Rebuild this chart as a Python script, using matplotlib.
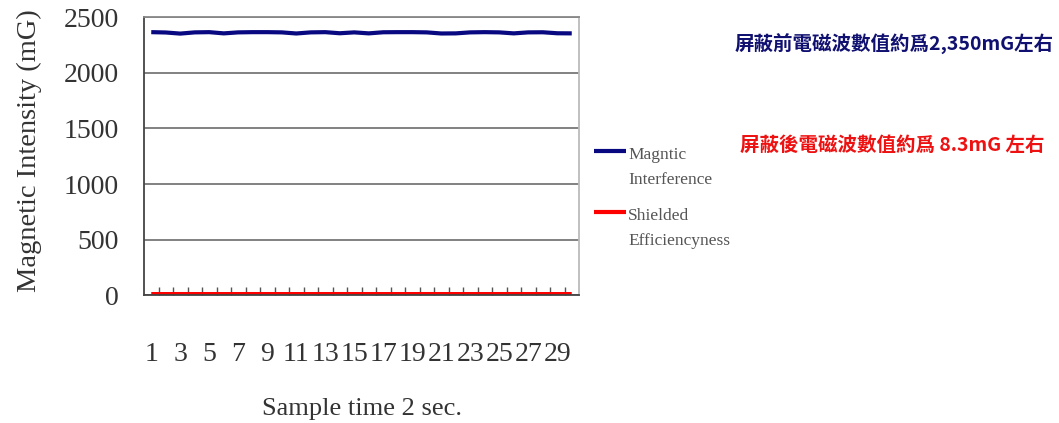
import matplotlib
matplotlib.use("Agg")
import matplotlib.pyplot as plt
from matplotlib.legend_handler import HandlerLine2D
import numpy as np

samples = list(range(1, 31))
magnetic_interference = [2368, 2365, 2355, 2366, 2368, 2357, 2366, 2368, 2368, 2366,
                         2356, 2366, 2368, 2358, 2366, 2357, 2367, 2368, 2368, 2366,
                         2356, 2357, 2366, 2368, 2366, 2357, 2366, 2367, 2358, 2357]
shielded = [8.3, 8.2, 8.4, 8.3, 8.3, 8.2, 8.3, 8.4, 8.3, 8.3,
            8.2, 8.3, 8.3, 8.4, 8.3, 8.3, 8.2, 8.3, 8.3, 8.4,
            8.3, 8.3, 8.2, 8.3, 8.3, 8.4, 8.3, 8.3, 8.2, 8.3]
yticks = [0, 500, 1000, 1500, 2000, 2500]
xtick_labels = list(range(1, 31, 2))
legend_labels = ["Magntic\nInterference", "Shielded\nEfficiencyness"]
note_before = "屏蔽前電磁波數值約爲2,350mG左右"
note_after = "屏蔽後電磁波數值約爲 8.3mG 左右"

serif = "Liberation Serif"
cjk = ["Noto Sans CJK TC", "DejaVu Sans"]


class TopLineHandler(HandlerLine2D):
    def __init__(self, shift, **kw):
        super().__init__(**kw)
        self.shift = shift

    def create_artists(self, legend, orig_handle, xdescent, ydescent, width, height,
                       fontsize, trans):
        arts = super().create_artists(legend, orig_handle, xdescent, ydescent, width,
                                      height, fontsize, trans)
        for a in arts:
            y = np.asarray(a.get_ydata(), dtype=float)
            a.set_ydata(y + self.shift)
        return arts


fig = plt.figure(figsize=(10.59, 4.23), dpi=100)
ax = fig.add_axes([144/1059, 1-295/423, 435/1059, (295-17.5)/423])

l1, = ax.plot(samples, magnetic_interference, color="#080880", lw=3, solid_capstyle="butt")
l2, = ax.plot(samples, shielded, color="#ff0000", lw=3, solid_capstyle="butt")

ax.set_xlim(0.5, 30.5)
ax.set_ylim(0, 2500)
ax.set_yticks(yticks)
ax.set_yticklabels([str(v) for v in yticks], fontfamily=serif, fontsize=20, color="#333333")
ax.set_xticks(xtick_labels)
ax.set_xticklabels([str(v) for v in xtick_labels], fontfamily=serif, fontsize=20, color="#333333")
ax.set_xticks(np.arange(1.5, 30.5, 1.0), minor=True)
ax.tick_params(axis="x", which="major", length=0, pad=34)
ax.tick_params(axis="x", which="minor", direction="in", length=6, width=1, color="#555555")
ax.tick_params(axis="y", length=0, pad=18)

ax.grid(axis="y", color="#777777", lw=1.3)
ax.set_axisbelow(True)
for s in ["left", "bottom"]:
    ax.spines[s].set_color("#444444")
    ax.spines[s].set_linewidth(1.3)
ax.spines["top"].set_color("#888888")
ax.spines["top"].set_linewidth(1.3)
ax.spines["right"].set_color("#bbbbbb")
ax.spines["right"].set_linewidth(1.3)

ax.set_ylabel("Magnetic Intensity (mG)", fontfamily=serif, fontsize=20.5, color="#333333")
ax.yaxis.set_label_coords(-0.235, 0.52)
ax.set_xlabel("Sample time 2 sec.", fontfamily=serif, fontsize=19, color="#333333", labelpad=22)

handler = TopLineHandler(shift=11.5)
leg = fig.legend([l1, l2], legend_labels, loc="upper left", bbox_to_anchor=(578/1059, 1-131/423),
                 frameon=False, prop={"family": serif, "size": 12.5}, handlelength=1.85,
                 handletextpad=0.15, labelspacing=1.15, labelcolor="#555555",
                 handler_map={l1: handler, l2: handler})
for t in leg.get_texts():
    t.set_linespacing(1.75)

fig.text(735/1059, 1-44/423, note_before, family=cjk, fontsize=14, fontweight="bold",
         color="#101070", va="center", ha="left")
fig.text(740/1059, 1-145/423, note_after, family=cjk, fontsize=14, fontweight="bold",
         color="#ee1111", va="center", ha="left")

fig.savefig("out.png", dpi=100)
